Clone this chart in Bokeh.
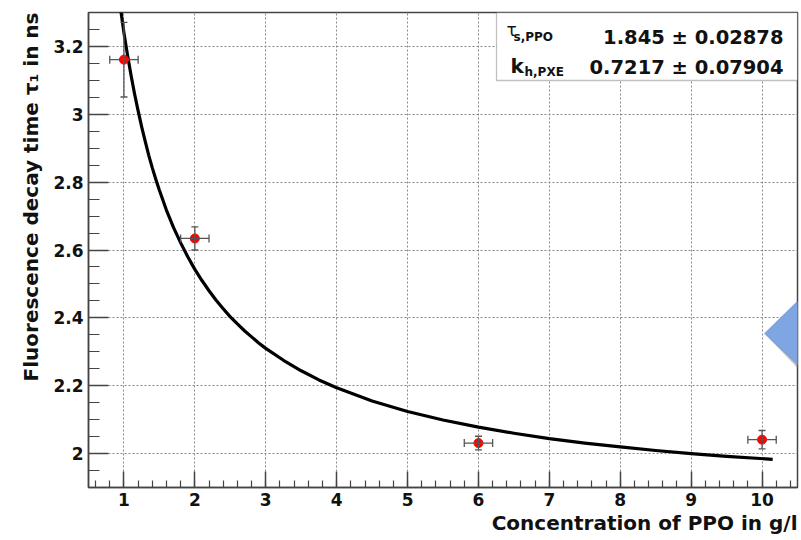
import numpy as np
from bokeh.plotting import figure
from bokeh.models import (Range1d, FixedTicker, Whisker, TeeHead, ColumnDataSource,
                          Title, Label, BoxAnnotation, PolyAnnotation)
from bokeh.embed import file_html
from bokeh.resources import INLINE

# ---- data ----
conc = [1, 2, 6, 10]                       # g/l
tau = [3.161, 2.634, 2.031, 2.041]         # ns
tau_err = [0.11, 0.034, 0.02, 0.027]
conc_err = [0.2, 0.2, 0.2, 0.2]

# fitted curve
fit_c = [0.93, 0.96, 1.0, 1.05, 1.1, 1.15, 1.2, 1.25, 1.3, 1.35, 1.4, 1.45, 1.5, 1.6,
         1.7, 1.8, 1.9, 2.0, 2.1, 2.2, 2.3, 2.4, 2.5, 2.6, 2.7, 2.8, 2.9, 3.0, 3.25,
         3.5, 3.75, 4.0, 4.5, 5.0, 5.5, 6.0, 6.5, 7.0, 7.5, 8.0, 8.5, 9.0, 9.5, 10.15]
fit_tau = [3.33, 3.30, 3.24, 3.175, 3.115, 3.06, 3.01, 2.963, 2.92, 2.879, 2.842, 2.808,
           2.776, 2.717, 2.666, 2.621, 2.580, 2.543, 2.510, 2.480, 2.452, 2.427, 2.403,
           2.382, 2.362, 2.344, 2.326, 2.310, 2.275, 2.244, 2.217, 2.194, 2.155, 2.124,
           2.099, 2.078, 2.060, 2.044, 2.031, 2.020, 2.009, 2.000, 1.992, 1.983]

x_ticks = [1, 2, 3, 4, 5, 6, 7, 8, 9, 10]
x_tick_labels = ["1", "2", "3", "4", "5", "6", "7", "8", "9", "10"]
y_ticks = [2.0, 2.2, 2.4, 2.6, 2.8, 3.0, 3.2]
y_tick_labels = ["2", "2.2", "2.4", "2.6", "2.8", "3", "3.2"]

par_names = ["τ", "k"]
par_subs = ["s,PPO", "h,PXE"]
par_vals = ["1.845 ± 0.02878", "0.7217 ± 0.07904"]

# ---- layout ----
W, H = 801, 540
FL, FR, FT, FB = 88, 797, 12, 487
XMIN, XMAX, YMIN, YMAX = 0.5, 10.5, 1.9, 3.3

def X(px):
    return XMIN + (px - FL) * (XMAX - XMIN) / (FR - FL)

def Y(py):
    return YMAX - (py - FT) * (YMAX - YMIN) / (FB - FT)

FONT = "DejaVu Sans"
AX = "#444444"

p = figure(width=W, height=H, output_backend="svg", toolbar_location=None,
           x_range=Range1d(XMIN, XMAX), y_range=Range1d(YMIN, YMAX),
           min_border_left=FL, min_border_right=W - FR,
           min_border_top=FT, min_border_bottom=H - FB)
p.background_fill_color = "white"
p.border_fill_color = "white"
p.outline_line_color = AX
p.outline_line_width = 1.5

x_minor = [round(v, 2) for v in np.arange(0.6, 10.45, 0.2)]
y_minor = [round(v, 2) for v in np.arange(1.95, 3.3, 0.05)]
p.xaxis.ticker = FixedTicker(ticks=x_ticks, minor_ticks=x_minor)
p.yaxis.ticker = FixedTicker(ticks=y_ticks, minor_ticks=y_minor)
p.xaxis.major_label_overrides = {v: l for v, l in zip(x_ticks, x_tick_labels)}
p.yaxis.major_label_overrides = {v: l for v, l in zip(y_ticks, y_tick_labels)}

for ax, tin, mtin in ((p.xaxis, 16, 7), (p.yaxis, 20, 11)):
    ax.axis_line_color = AX
    ax.axis_line_width = 1.5
    ax.major_tick_line_color = AX
    ax.minor_tick_line_color = AX
    ax.major_tick_line_width = 1.5
    ax.minor_tick_line_width = 1.2
    ax.major_tick_in = tin
    ax.major_tick_out = 0
    ax.minor_tick_in = mtin
    ax.minor_tick_out = 0
    ax.major_label_text_font = FONT
    ax.major_label_text_font_style = "bold"
    ax.major_label_text_font_size = "17px"
    ax.major_label_text_color = "#111111"
    ax.major_label_standoff = 5

p.xgrid.grid_line_color = "#888888"
p.xgrid.grid_line_dash = "2 2"
p.xgrid.grid_line_width = 1
p.ygrid.grid_line_color = "#888888"
p.ygrid.grid_line_dash = "2 2"
p.ygrid.grid_line_width = 1

p.add_layout(Title(text="Fluorescence decay time τ₁ in ns", align="right",
                   text_font=FONT, text_font_style="bold", text_font_size="20px",
                   text_color="#111111", standoff=16), "left")
p.add_layout(Title(text="Concentration of PPO in g/l", align="right",
                   text_font=FONT, text_font_style="bold", text_font_size="20px",
                   text_color="#111111", standoff=0), "below")

# ---- data ----
src = ColumnDataSource(dict(
    x=conc, y=tau,
    yl=[t - e for t, e in zip(tau, tau_err)], yu=[t + e for t, e in zip(tau, tau_err)],
    xl=[c - e for c, e in zip(conc, conc_err)], xu=[c + e for c, e in zip(conc, conc_err)]))

EB = "#555555"
wy = Whisker(base="x", lower="yl", upper="yu", source=src, dimension="height",
             line_color=EB, line_width=1.3, level="glyph",
             lower_head=TeeHead(size=7, line_color=EB, line_width=1.3),
             upper_head=TeeHead(size=7, line_color=EB, line_width=1.3))
wx = Whisker(base="y", lower="xl", upper="xu", source=src, dimension="width",
             line_color=EB, line_width=1.3, level="glyph",
             lower_head=TeeHead(size=8, line_color=EB, line_width=1.3),
             upper_head=TeeHead(size=8, line_color=EB, line_width=1.3))
p.add_layout(wy)
p.add_layout(wx)

p.line(fit_c, fit_tau, line_color="black", line_width=3.2, line_join="round")
p.scatter("x", "y", source=src, size=9, fill_color="#ff0000", line_color="#ff0000",
          marker="circle")

# ---- stats box ----
p.add_layout(BoxAnnotation(left=X(496), right=XMAX, bottom=Y(80), top=YMAX,
                           fill_color="white", fill_alpha=1.0,
                           line_color="#333333", line_width=1.3))
rows_base = [36, 66]
for i in range(2):
    b = rows_base[i]
    if i == 0:
        p.add_layout(Label(x=X(506), y=Y(b - 7), text=par_names[i], text_font=FONT,
                           text_font_size="17px", text_color="#111111",
                           text_baseline="alphabetic"))
        p.add_layout(Label(x=X(513), y=Y(b), text=par_subs[i], text_font=FONT,
                           text_font_style="bold", text_font_size="12px",
                           text_color="#111111", text_baseline="alphabetic"))
    else:
        p.add_layout(Label(x=X(510), y=Y(b - 1), text=par_names[i], text_font=FONT,
                           text_font_style="bold", text_font_size="20px",
                           text_color="#111111", text_baseline="alphabetic"))
        p.add_layout(Label(x=X(524), y=Y(b + 5), text=par_subs[i], text_font=FONT,
                           text_font_style="bold", text_font_size="12px",
                           text_color="#111111", text_baseline="alphabetic"))
    p.add_layout(Label(x=X(783), y=Y(b + 1), text=par_vals[i], text_font=FONT,
                       text_font_style="bold", text_font_size="19.5px",
                       text_color="#111111", text_align="right",
                       text_baseline="alphabetic"))

# ---- blue arrow shape (overlay at right edge) ----
p.add_layout(PolyAnnotation(xs=[X(768), X(804), X(804)], ys=[Y(337), Y(300), Y(375)],
                            fill_color="#8a8a8a", fill_alpha=0.45, line_alpha=0))
p.add_layout(PolyAnnotation(xs=[X(764), X(803), X(803)], ys=[Y(333), Y(295), Y(370)],
                            fill_color="#7fa6e3", fill_alpha=1.0,
                            line_color="#4f7fc6", line_width=1.2))

open("out.html", "w").write(file_html(p, INLINE))
